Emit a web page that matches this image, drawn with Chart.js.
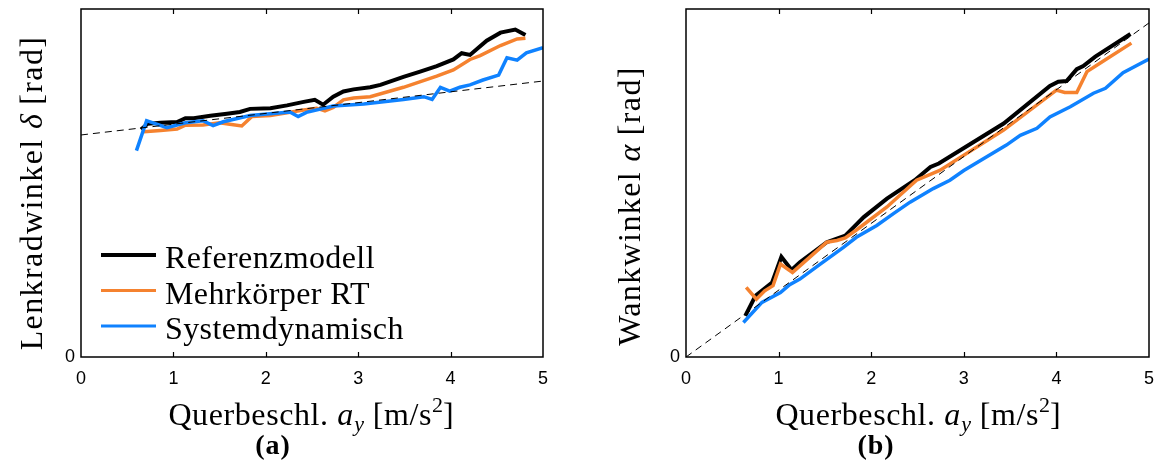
<!DOCTYPE html>
<html>
<head>
<meta charset="utf-8">
<script src="https://cdn.jsdelivr.net/npm/chart.js@4"></script>
<style>
  body { margin: 0; background: #fff; }
  .wrap { position: relative; width: 1159px; height: 470px; }
  canvas { position: absolute; top: 0; }
</style>
</head>
<body>
<div class="wrap">
  <canvas id="chartA" width="580" height="470" style="left:0"></canvas>
  <canvas id="chartB" width="579" height="470" style="left:580px"></canvas>
</div>
<script>
// ---- data ----
// (a) Lenkradwinkel
const refX_a = [0.65, 0.72, 0.86, 1.04, 1.13, 1.22, 1.40, 1.58, 1.72, 1.83, 2.05, 2.23, 2.41, 2.53, 2.62, 2.73, 2.84, 2.95, 3.13, 3.24, 3.49, 3.67, 3.85, 4.03, 4.12, 4.21, 4.39, 4.54, 4.70, 4.81];
const refY_a = [0.654, 0.670, 0.673, 0.675, 0.686, 0.686, 0.693, 0.699, 0.704, 0.713, 0.715, 0.723, 0.733, 0.739, 0.725, 0.748, 0.763, 0.769, 0.775, 0.782, 0.805, 0.820, 0.836, 0.855, 0.873, 0.868, 0.909, 0.932, 0.941, 0.925];
const mkX_a = [0.68, 0.86, 1.04, 1.13, 1.32, 1.50, 1.61, 1.74, 1.85, 2.05, 2.41, 2.55, 2.64, 2.73, 2.84, 2.95, 3.13, 3.49, 3.85, 4.03, 4.21, 4.32, 4.54, 4.72, 4.81];
const mkY_a = [0.647, 0.651, 0.655, 0.666, 0.667, 0.673, 0.669, 0.664, 0.691, 0.694, 0.710, 0.715, 0.707, 0.717, 0.739, 0.744, 0.748, 0.775, 0.807, 0.825, 0.855, 0.866, 0.895, 0.914, 0.916];
const sysX_a = [0.60, 0.71, 0.93, 1.13, 1.32, 1.43, 1.54, 1.83, 2.26, 2.35, 2.44, 2.73, 3.06, 3.49, 3.71, 3.80, 3.89, 3.99, 4.10, 4.21, 4.35, 4.52, 4.61, 4.72, 4.82, 5.00];
const sysY_a = [0.593, 0.679, 0.659, 0.673, 0.679, 0.665, 0.676, 0.694, 0.704, 0.691, 0.703, 0.721, 0.727, 0.740, 0.748, 0.740, 0.775, 0.764, 0.775, 0.782, 0.796, 0.810, 0.860, 0.853, 0.874, 0.889];
const linX_a = [0, 5];
const linY_a = [0.638, 0.793];

// (b) Wankwinkel
const refX_b = [0.64, 0.75, 0.93, 1.03, 1.14, 1.23, 1.52, 1.72, 1.92, 2.17, 2.47, 2.64, 2.73, 3.43, 3.93, 4.02, 4.11, 4.22, 4.29, 4.42, 4.80];
const refY_b = [0.118, 0.176, 0.214, 0.288, 0.250, 0.272, 0.330, 0.349, 0.402, 0.455, 0.508, 0.546, 0.556, 0.671, 0.779, 0.791, 0.793, 0.827, 0.836, 0.863, 0.928];
const mkX_b = [0.65, 0.76, 0.85, 0.94, 1.02, 1.15, 1.52, 1.63, 1.72, 1.84, 2.17, 2.49, 2.74, 3.43, 4.00, 4.09, 4.22, 4.33, 4.47, 4.81];
const mkY_b = [0.200, 0.166, 0.190, 0.205, 0.267, 0.243, 0.330, 0.335, 0.342, 0.365, 0.431, 0.508, 0.536, 0.652, 0.767, 0.760, 0.760, 0.820, 0.844, 0.902];
const sysX_b = [0.62, 0.82, 1.02, 1.12, 1.23, 1.45, 1.70, 1.84, 2.06, 2.24, 2.42, 2.67, 2.85, 3.00, 3.46, 3.61, 3.79, 3.93, 4.15, 4.40, 4.53, 4.72, 5.00];
const sysY_b = [0.099, 0.157, 0.185, 0.208, 0.224, 0.267, 0.315, 0.344, 0.378, 0.412, 0.445, 0.484, 0.508, 0.536, 0.609, 0.637, 0.657, 0.690, 0.719, 0.758, 0.772, 0.817, 0.856];
const linX_b = [0, 5];
const linY_b = [0, 0.96];

const xTicks = [0, 1, 2, 3, 4, 5];
const seriesNames = ['Referenzmodell', 'Mehrkörper RT', 'Systemdynamisch'];
const seriesColors = ['#000000', '#F5822F', '#0F82FF'];

const SERIF = '"Liberation Serif", "DejaVu Serif", serif';
const SANS = '"Liberation Sans", Arial, sans-serif';

function pts(xs, ys) {
    return xs.map((x, i) => ({ x: x, y: ys[i] }));
}

// draw a run of text segments (different fonts / offsets), centred on cx
function drawRich(ctx, segs, cx, cy, rot) {
    ctx.save();
    ctx.translate(cx, cy);
    if (rot) ctx.rotate(rot);
    ctx.fillStyle = '#000';
    ctx.textBaseline = 'alphabetic';
    ctx.textAlign = 'left';
    let total = 0;
    const widths = segs.map(s => {
        ctx.font = s.font;
        ctx.letterSpacing = s.ls || '0px';
        const w = ctx.measureText(s.t).width;
        total += w;
        return w;
    });
    let x = -total / 2;
    segs.forEach((s, i) => {
        ctx.font = s.font;
        ctx.letterSpacing = s.ls || '0px';
        ctx.fillText(s.t, x, s.dy || 0);
        x += widths[i];
    });
    ctx.restore();
}

function makePanel(id, data, opts) {
    const datasets = [
        { label: seriesNames[0], data: pts(data.refX, data.refY), borderColor: seriesColors[0], borderWidth: 4, order: 4 },
        { label: seriesNames[1], data: pts(data.mkX, data.mkY), borderColor: seriesColors[1], borderWidth: 3.5, order: 3 },
        { label: seriesNames[2], data: pts(data.sysX, data.sysY), borderColor: seriesColors[2], borderWidth: 3.5, order: 2 },
        { label: 'lin', data: pts(data.linX, data.linY), borderColor: '#000', borderWidth: 1, borderDash: [7, 5], order: 1, isRef: true }
    ];

    const panelText = {
        id: 'panelText',
        afterDraw(chart) {
            const ctx = chart.ctx;
            const a = chart.chartArea;
            const xs = chart.scales.x;

            // frame
            ctx.save();
            ctx.strokeStyle = '#000';
            ctx.lineWidth = 1.5;
            ctx.strokeRect(a.left, a.top, a.right - a.left, a.bottom - a.top);
            // inner ticks
            ctx.lineWidth = 1.2;
            ctx.beginPath();
            [1, 2, 3, 4].forEach(v => {
                const px = Math.round(xs.getPixelForValue(v)) + 0.5;
                ctx.moveTo(px, a.bottom); ctx.lineTo(px, a.bottom - 5);
                ctx.moveTo(px, a.top); ctx.lineTo(px, a.top + 5);
            });
            ctx.stroke();
            ctx.restore();

            const big = '32px ' + SERIF;
            const ital = 'italic 32px ' + SERIF;
            const small = 'italic 22px ' + SERIF;
            const sup = '22px ' + SERIF;

            // x title
            drawRich(ctx, [
                { t: 'Querbeschl. ', font: big, ls: '0.6px' },
                { t: 'a', font: ital, ls: '1px' },
                { t: 'y', font: small, dy: 6 },
                { t: ' [m/s', font: big, ls: '0.6px' },
                { t: '2', font: sup, dy: -13 },
                { t: ']', font: big }
            ], opts.xTitleX, 425);

            // caption
            drawRich(ctx, [{ t: opts.caption, font: 'bold 28px ' + SERIF, ls: '1px' }], opts.capX, 454);

            // y title
            drawRich(ctx, [
                { t: opts.yName + ' ', font: big, ls: '1.4px' },
                { t: opts.ySym, font: ital },
                { t: ' [rad]', font: big, ls: '1.4px' }
            ], opts.yTitleX, opts.yTitleY, -Math.PI / 2);

            // legend inside the plot
            if (opts.legend) {
                ctx.save();
                chart.data.datasets.forEach((ds, i) => {
                    if (ds.isRef) return;
                    const ly = 255 + i * 35.5;
                    ctx.strokeStyle = ds.borderColor;
                    ctx.lineWidth = i === 0 ? 4 : 3;
                    ctx.beginPath();
                    ctx.moveTo(101, ly); ctx.lineTo(156, ly);
                    ctx.stroke();
                    ctx.fillStyle = '#000';
                    ctx.font = big;
                    ctx.letterSpacing = '0.4px';
                    ctx.textBaseline = 'alphabetic';
                    ctx.fillText(ds.label, 165, ly + 13);
                });
                ctx.restore();
            }
        }
    };

    return new Chart(document.getElementById(id), {
        type: 'line',
        data: { datasets: datasets },
        options: {
            responsive: false,
            animation: false,
            layout: { padding: { top: 9, right: opts.padRight, left: 0, bottom: 0 } },
            elements: { point: { radius: 0 }, line: { tension: 0 } },
            plugins: { legend: { display: false }, tooltip: { enabled: false } },
            scales: {
                x: {
                    type: 'linear',
                    min: 0,
                    max: 5,
                    grid: { display: false, drawTicks: false },
                    border: { display: false },
                    afterBuildTicks: axis => { axis.ticks = xTicks.map(v => ({ value: v })); },
                    afterFit: axis => {
                        axis.height = 113;
                        axis.paddingLeft = 0; axis.paddingRight = 0;
                    },
                    ticks: { color: '#000', font: { family: SANS, size: 18 }, padding: 11, maxRotation: 0 }
                },
                y: {
                    type: 'linear',
                    min: 0,
                    max: 1,
                    grid: { display: false, drawTicks: false },
                    border: { display: false },
                    afterBuildTicks: axis => { axis.ticks = [{ value: 0 }]; },
                    afterFit: axis => {
                        axis.width = opts.yWidth;
                        axis.paddingTop = 0; axis.paddingBottom = 0;
                    },
                    ticks: { color: '#000', font: { family: SANS, size: 18 }, padding: 6 }
                }
            }
        },
        plugins: [panelText]
    });
}

makePanel('chartA',
    { refX: refX_a, refY: refY_a, mkX: mkX_a, mkY: mkY_a, sysX: sysX_a, sysY: sysY_a, linX: linX_a, linY: linY_a },
    { yWidth: 81, padRight: 37, xTitleX: 311, capX: 273, caption: '(a)',
      yName: 'Lenkradwinkel', ySym: 'δ', yTitleX: 42, yTitleY: 193, legend: true });

makePanel('chartB',
    { refX: refX_b, refY: refY_b, mkX: mkX_b, mkY: mkY_b, sysX: sysX_b, sysY: sysY_b, linX: linX_b, linY: linY_b },
    { yWidth: 106, padRight: 10, xTitleX: 338, capX: 296, caption: '(b)',
      yName: 'Wankwinkel', ySym: 'α', yTitleX: 60, yTitleY: 206, legend: false });
</script>
</body>
</html>
